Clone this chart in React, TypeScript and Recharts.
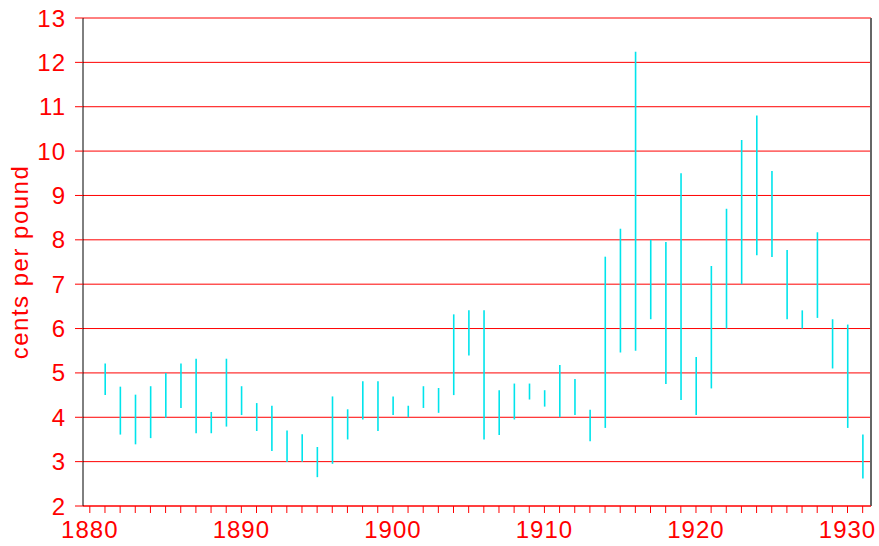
import { ComposedChart, Bar, XAxis, YAxis, CartesianGrid, ReferenceLine } from 'recharts';

const years = [
  1881, 1882, 1883, 1884, 1885, 1886, 1887, 1888, 1889, 1890,
  1891, 1892, 1893, 1894, 1895, 1896, 1897, 1898, 1899, 1900,
  1901, 1902, 1903, 1904, 1905, 1906, 1907, 1908, 1909, 1910,
  1911, 1912, 1913, 1914, 1915, 1916, 1917, 1918, 1919, 1920,
  1921, 1922, 1923, 1924, 1925, 1926, 1927, 1928, 1929, 1930, 1931,
];

const lows = [
  4.5, 3.61, 3.39, 3.53, 3.99, 4.21, 3.64, 3.64, 3.79, 4.05,
  3.69, 3.24, 2.99, 3.0, 2.65, 2.95, 3.5, 3.95, 3.69, 4.05,
  4.0, 4.21, 4.1, 4.5, 5.39, 3.5, 3.6, 3.95, 4.4, 4.24,
  4.0, 4.05, 3.46, 3.76, 5.46, 5.5, 6.21, 4.75, 4.39, 4.05,
  4.65, 6.0, 7.0, 7.65, 7.61, 6.21, 6.0, 6.24, 5.1, 3.76, 2.62,
];

const highs = [
  5.21, 4.69, 4.51, 4.7, 5.0, 5.21, 5.32, 4.12, 5.32, 4.7,
  4.32, 4.26, 3.7, 3.62, 3.33, 4.47, 4.18, 4.81, 4.81, 4.47,
  4.26, 4.7, 4.66, 6.32, 6.41, 6.41, 4.61, 4.76, 4.76, 4.61,
  5.18, 4.86, 4.17, 7.62, 8.25, 12.24, 8.0, 7.95, 9.5, 5.36,
  7.41, 8.7, 10.25, 10.8, 9.55, 7.77, 6.41, 8.17, 6.21, 6.09, 3.61,
];

const yTicks = [2, 3, 4, 5, 6, 7, 8, 9, 10, 11, 12, 13];
const xTicks = Array.from({ length: 52 }, (_, i) => 1880 + i);

const RED = '#ff0000';
const CYAN = '#00e4ec';
const FONT = '"Liberation Sans", Arial, sans-serif';

const data = years.map((year, i) => ({ year, range: [lows[i], highs[i]] }));

export default function App() {
  return (
    <div style={{ position: 'absolute', left: 0, top: 0, background: '#fff' }}>
      <ComposedChart
        width={879}
        height={546}
        data={data}
        margin={{ top: 18, right: 8, left: 0, bottom: 0 }}
      >
        <CartesianGrid horizontal vertical={false} stroke={RED} strokeWidth={1} />
        <XAxis
          dataKey="year"
          type="number"
          domain={[1879.55, 1931.55]}
          ticks={xTicks}
          interval={0}
          height={40}
          stroke={RED}
          axisLine={{ stroke: RED }}
          tickLine={{ stroke: RED }}
          tickSize={7}
          tickMargin={8}
          tick={{ fill: RED, fontSize: 24, fontFamily: FONT, letterSpacing: 1 }}
          tickFormatter={(v: number) => (v % 10 === 0 ? String(v) : '')}
        />
        <YAxis
          type="number"
          domain={[2, 13]}
          ticks={yTicks}
          interval={0}
          width={83}
          axisLine={{ stroke: '#000' }}
          tickLine={{ stroke: RED }}
          tickSize={8}
          tickMargin={9}
          tick={{ fill: RED, fontSize: 24, fontFamily: FONT, letterSpacing: 1 }}
          label={{
            content: (props: any) => {
              const vb = props.viewBox || { y: 18, height: 488 };
              const cy = vb.y + vb.height / 2;
              return (
                <text
                  x={28}
                  y={cy}
                  transform={`rotate(-90, 28, ${cy})`}
                  textAnchor="middle"
                  fill={RED}
                  fontSize={24}
                  fontFamily={FONT}
                  letterSpacing={1.5}
                >
                  cents per pound
                </text>
              );
            },
          }}
        />
        <ReferenceLine x={1931.55} stroke="#666" strokeWidth={2} />
        <Bar dataKey="range" fill={CYAN} barSize={1.6} isAnimationActive={false} />
      </ComposedChart>
    </div>
  );
}
